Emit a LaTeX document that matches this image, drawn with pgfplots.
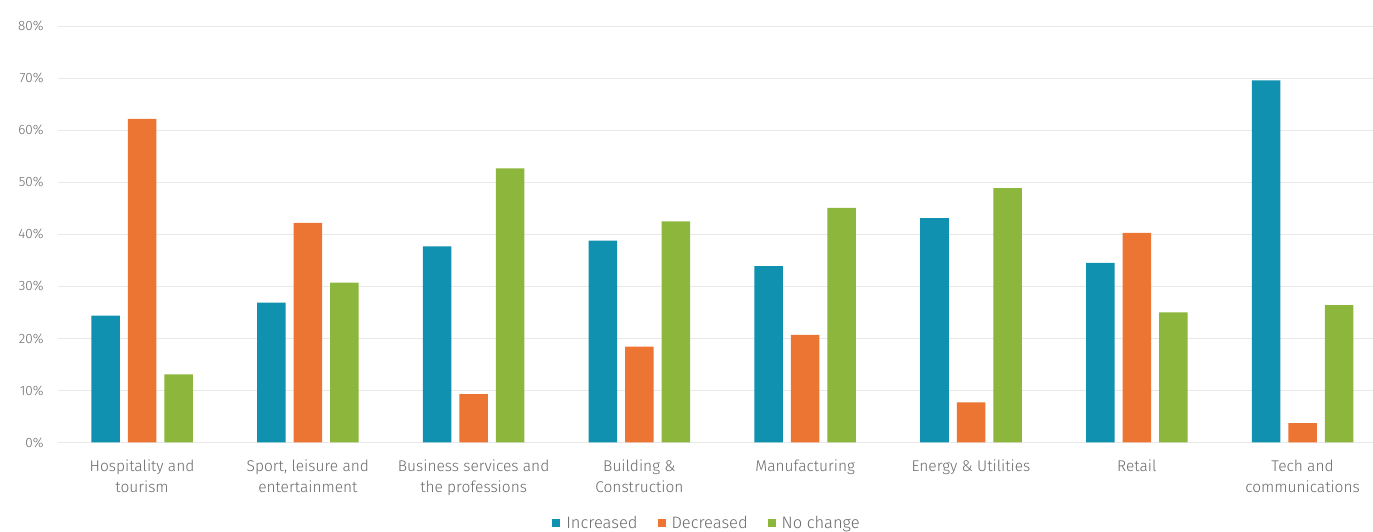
\documentclass[border=0pt]{standalone}
\usepackage{fontspec}
\setmainfont{Fira Sans}[UprightFont={* Light}]
\usepackage{pgfplots}
\pgfplotsset{compat=1.18}
\definecolor{incblue}{RGB}{16,145,176}
\definecolor{decorange}{RGB}{237,117,51}
\definecolor{nogreen}{RGB}{141,182,60}
\definecolor{gridgray}{RGB}{232,232,232}
\definecolor{labelgray}{RGB}{105,105,105}

% Share of businesses reporting each outcome, by sector (%)
\pgfplotstableread{
x inc dec none
0 24.4 62.2 13.1
1 26.9 42.2 30.7
2 37.7  9.3 52.7
3 38.8 18.4 42.5
4 33.9 20.7 45.1
5 43.1  7.7 48.9
6 34.5 40.3 25.0
7 69.6  3.7 26.4
}\sectors

\begin{document}
\begin{tikzpicture}
\path[use as bounding box] (0pt,0pt) rectangle (1373pt,532pt);
\begin{axis}[
  at={(58pt,89.5pt)}, anchor=south west,
  scale only axis,
  width=1315pt, height=416.3pt,
  xmin=-0.507, xmax=7.425,
  ymin=0, ymax=80,
  ybar=8pt, bar width=28.5pt,
  axis line style={draw=none},
  tick style={draw=none},
  ymajorgrids, grid style={gridgray, line width=1.3pt},
  ytick={0,10,...,80},
  yticklabel={\pgfmathprintnumber{\tick}\%},
  /pgf/number format/assume math mode=true,
  yticklabel style={font=\fontsize{13.5}{15}\selectfont, text=labelgray, xshift=-11pt},
  xtick=data,
  xticklabels={{Hospitality and\\tourism},{Sport, leisure and\\entertainment},{Business services and\\the professions},{Building \&\\Construction},{Manufacturing},{Energy \& Utilities},{Retail},{Tech and\\communications}},
  xticklabel style={font=\fontsize{15.5}{21}\selectfont, text=labelgray, align=center, anchor=north, yshift=-9.5pt},
  legend style={at={(0.4935,-0.193)}, anchor=center, draw=none, fill=none,
    legend columns=3, font=\fontsize{16.5}{18}\selectfont, text=labelgray,
    /tikz/every even column/.append style={column sep=18pt},
    /tikz/every odd column/.append style={column sep=4pt}},
  legend image code/.code={\fill[#1] (0pt,-4pt) rectangle (8pt,4pt);},
  legend cell align=left,
]
\addplot[fill=incblue, draw=none] table[x=x, y=inc] {\sectors};
\addplot[fill=decorange, draw=none] table[x=x, y=dec] {\sectors};
\addplot[fill=nogreen, draw=none] table[x=x, y=none] {\sectors};
\legend{Increased, Decreased, No change}
\end{axis}
\end{tikzpicture}
\end{document}
